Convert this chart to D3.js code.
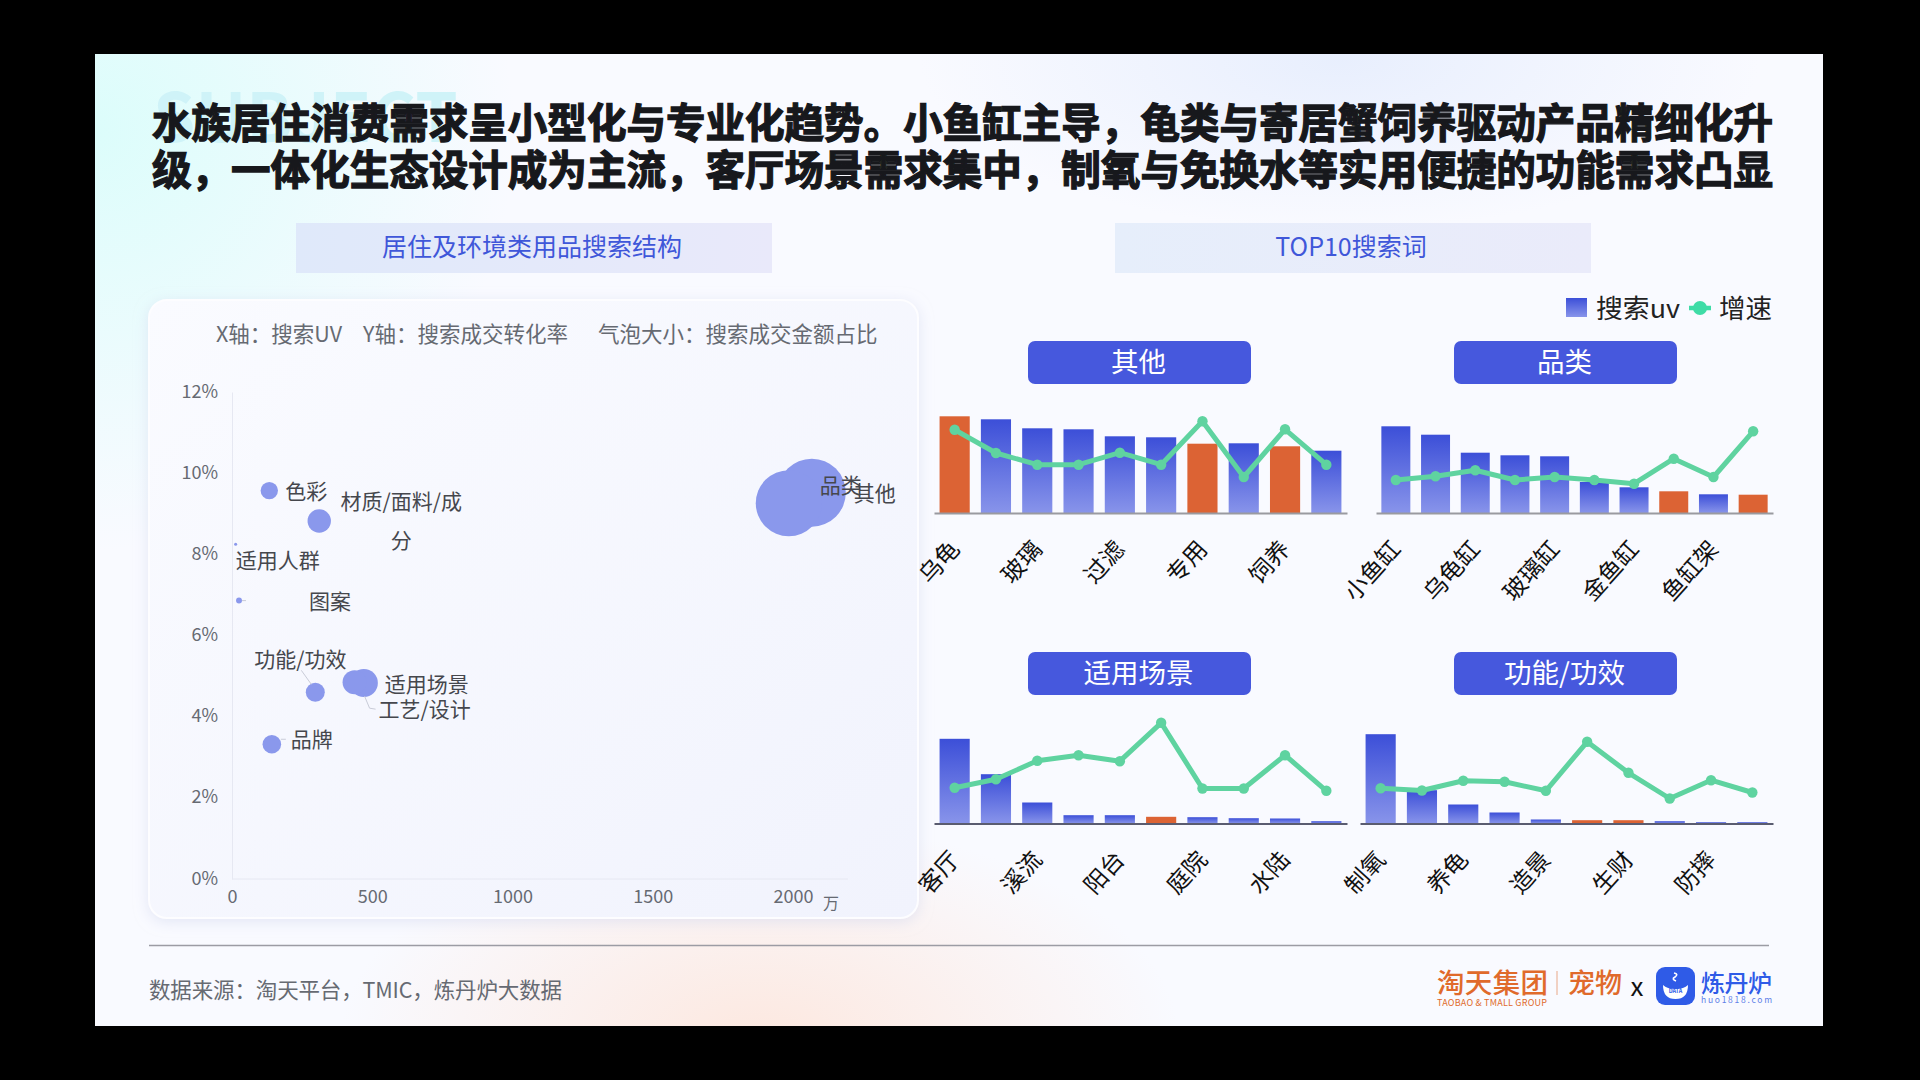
<!DOCTYPE html>
<html>
<head>
<meta charset="utf-8">
<script src="https://cdn.jsdelivr.net/npm/d3@7"></script>
<style>
html, body { margin: 0; padding: 0; background: #000; }
svg { display: block; }
text { font-family: "Noto Sans CJK SC", "Noto Sans", sans-serif; }
</style>
</head>
<body>
<script>
// 气泡图数据
var bubbleNames = ["其他", "品类", "色彩", "材质/面料/成分", "适用人群", "图案", "功能/功效", "适用场景", "工艺/设计", "品牌"];
var bubbleUv = [2067, 1985, 133, 311, 13, 25, 297, 470, 437, 142];
var bubbleRate = [9.52, 9.26, 9.57, 8.82, 8.25, 6.86, 4.6, 4.83, 4.85, 3.32];
var bubbleShare = [30, 28.3, 1.96, 3.55, 0.06, 0.23, 2.34, 5.1, 3.74, 2.24];
var xTicks = [0, 500, 1000, 1500, 2000];
var yTicks = [0, 2, 4, 6, 8, 10, 12];

// TOP10 数据, 没有坐标轴, 数值为相对读数
var otherLabels = ["乌龟", "玻璃", "过滤", "专用", "饲养"];
var otherUv = [96.7, 93.7, 84.7, 83.7, 76.7, 75.7, 69.3, 69.7, 66.7, 62.3];
var otherGrowth = [83.3, 60, 48.3, 48.3, 60.3, 48.3, 91.7, 36, 83.7, 48.3];
var otherHot = [0, 6, 8];

var categoryLabels = ["小鱼缸", "乌龟缸", "玻璃缸", "金鱼缸", "鱼缸架"];
var categoryUv = [86.7, 78.3, 60.3, 57.7, 56.7, 31, 25.7, 21.7, 18.7, 18.3];
var categoryGrowth = [33, 36.7, 42.7, 33, 36, 33, 29.3, 54.3, 36, 81.7];
var categoryHot = [7, 9];

var sceneLabels = ["客厅", "溪流", "阳台", "庭院", "水陆"];
var sceneUv = [84.7, 49.3, 21, 8.3, 8.3, 6.7, 6.3, 5.3, 5, 2.3];
var sceneGrowth = [35.7, 44.3, 62.7, 68.3, 62.3, 100.7, 35, 35, 68.3, 32.7];
var sceneHot = [5];

var funcLabels = ["制氧", "养龟", "造景", "生财", "防摔"];
var funcUv = [89.3, 33.3, 19, 11, 4, 3.3, 3.3, 2.3, 1.3, 1.3];
var funcGrowth = [35.3, 33, 42.7, 41.7, 32.7, 81.7, 50.7, 25, 43.3, 31];
var funcHot = [5, 6];

var titleLines = [
    "水族居住消费需求呈小型化与专业化趋势。小鱼缸主导，龟类与寄居蟹饲养驱动产品精细化升",
    "级，一体化生态设计成为主流，客厅场景需求集中，制氧与免换水等实用便捷的功能需求凸显"
];

// 气泡标签的偏移, 相对气泡圆心
var labelOffsets = {
    "其他": [63, -1], "品类": [52, -19], "色彩": [37, -1], "材质/面料/成分": [82, -21],
    "适用人群": [42, 15], "图案": [91, -1], "功能/功效": [-15, -34],
    "适用场景": [63, 0], "工艺/设计": [70, 26], "品牌": [40, -6]
};
var leaderLines = {
    "图案": [[3, 0], [7, 0]],
    "功能/功效": [[-14, -22], [-4, -8]],
    "工艺/设计": [[10, 14], [15, 26], [21, 27]],
    "品牌": [[9, -5], [14, -5]]
};

var svg = d3.select("body").append("svg").attr("width", 1920).attr("height", 1080);
var defs = svg.append("defs");

function radial(id, color, opacity) {
    var g = defs.append("radialGradient").attr("id", id);
    g.append("stop").attr("offset", "0%").attr("stop-color", color).attr("stop-opacity", opacity);
    g.append("stop").attr("offset", "100%").attr("stop-color", color).attr("stop-opacity", 0);
}
function linear(id, x2, y2, from, to) {
    var g = defs.append("linearGradient").attr("id", id)
        .attr("x1", 0).attr("y1", 0).attr("x2", x2).attr("y2", y2);
    g.append("stop").attr("offset", "0%").attr("stop-color", from);
    g.append("stop").attr("offset", "100%").attr("stop-color", to);
}
radial("glowCyan", "#dcfdfb", 1);
radial("glowPeach", "#fde6dc", 0.9);
radial("glowBlue", "#e4ecfd", 0.8);
linear("barBlue", 0, 1, "#3c4fd8", "#8894ea");
linear("cardFill", 1, 1, "#fafbff", "#f1f3fd");
linear("bannerLeft", 1, 0, "#dfe9fa", "#e9e9fa");
linear("bannerRight", 1, 0, "#e6eefb", "#eaebfa");

var shadow = defs.append("filter").attr("id", "cardShadow")
    .attr("x", "-5%").attr("y", "-5%").attr("width", "110%").attr("height", "110%");
shadow.append("feDropShadow").attr("dx", 0).attr("dy", 3).attr("stdDeviation", 7)
    .attr("flood-color", "#cdd3ec").attr("flood-opacity", 0.5);

defs.append("clipPath").attr("id", "slideClip").append("rect")
    .attr("x", 95).attr("y", 54).attr("width", 1728).attr("height", 972);

// 背景
var slide = svg.append("g").attr("clip-path", "url(#slideClip)");
slide.append("rect").attr("x", 95).attr("y", 54).attr("width", 1728).attr("height", 972).attr("fill", "#f9faff");
slide.append("ellipse").attr("cx", 95).attr("cy", 130).attr("rx", 420).attr("ry", 420).attr("fill", "url(#glowCyan)");
slide.append("ellipse").attr("cx", 760).attr("cy", 1040).attr("rx", 420).attr("ry", 220).attr("fill", "url(#glowPeach)");
slide.append("ellipse").attr("cx", 1340).attr("cy", 60).attr("rx", 420).attr("ry", 170).attr("fill", "url(#glowBlue)");

slide.append("text").attr("x", 153).attr("y", 142)
    .attr("font-size", 68).attr("font-weight", 700).attr("fill", "#cff3f8")
    .text("SUBJECT");

// 大标题
slide.selectAll("text.title").data(titleLines).join("text")
    .attr("class", "title")
    .attr("x", 152)
    .attr("y", function (d, i) { return 138 + i * 47; })
    .attr("textLength", 1621)
    .attr("lengthAdjust", "spacingAndGlyphs")
    .attr("font-size", 41)
    .attr("font-weight", 700)
    .attr("fill", "#17181c")
    .attr("stroke", "#17181c")
    .attr("stroke-width", 1.3)
    .text(function (d) { return d; });

// 小标题
function banner(x, w, fill, label) {
    slide.append("rect").attr("x", x).attr("y", 223).attr("width", w).attr("height", 50).attr("fill", fill);
    slide.append("text").attr("x", x + w / 2 - 2).attr("y", 245)
        .attr("text-anchor", "middle").attr("dominant-baseline", "central")
        .attr("font-size", 25).attr("fill", "#3f57d9").text(label);
}
banner(296, 476, "url(#bannerLeft)", "居住及环境类用品搜索结构");
banner(1115, 476, "url(#bannerRight)", "TOP10搜索词");

// 气泡图卡片
slide.append("rect").attr("x", 149).attr("y", 300).attr("width", 769).attr("height", 618).attr("rx", 18)
    .attr("fill", "url(#cardFill)").attr("stroke", "#fdfdff").attr("stroke-width", 2)
    .attr("filter", "url(#cardShadow)");

var infoTexts = [[216, "X轴：搜索UV"], [363, "Y轴：搜索成交转化率"], [598, "气泡大小：搜索成交金额占比"]];
slide.selectAll("text.info").data(infoTexts).join("text")
    .attr("class", "info")
    .attr("x", function (d) { return d[0]; })
    .attr("y", 332)
    .attr("dominant-baseline", "central")
    .attr("font-size", 21.5)
    .attr("fill", "#666a72")
    .text(function (d) { return d[1]; });

var xScale = d3.scaleLinear().domain([0, 2000]).range([232, 793]);
var yScale = d3.scaleLinear().domain([0, 12]).range([879, 392]);
var rScale = d3.scaleSqrt().domain([0, 30]).range([0, 34]);

var xAxis = d3.axisBottom(xScale).tickValues(xTicks).tickSize(0).tickPadding(11).tickFormat(d3.format("d"));
var yAxis = d3.axisLeft(yScale).tickValues(yTicks).tickSize(0).tickPadding(14)
    .tickFormat(function (d) { return d + "%"; });

var xAxisGroup = slide.append("g").attr("transform", "translate(0,879)").call(xAxis);
xAxisGroup.select(".domain").attr("d", "M232,0H848").attr("stroke", "#e6e8f2");
xAxisGroup.selectAll("text").attr("font-size", 18).attr("fill", "#666a72");
var yAxisGroup = slide.append("g").attr("transform", "translate(232,0)").call(yAxis);
yAxisGroup.select(".domain").attr("stroke", "#e6e8f2");
yAxisGroup.selectAll("text").attr("font-size", 18).attr("fill", "#666a72").attr("dy", "0.28em");

slide.append("text").attr("x", 831).attr("y", 902)
    .attr("text-anchor", "middle").attr("dominant-baseline", "central")
    .attr("font-size", 16).attr("fill", "#666a72").text("万");

bubbleNames.forEach(function (name, i) {
    var cx = xScale(bubbleUv[i]);
    var cy = yScale(bubbleRate[i]);
    slide.append("circle").attr("cx", cx).attr("cy", cy).attr("r", rScale(bubbleShare[i])).attr("fill", "#8a98ec");
});
var lineGen = d3.line();
bubbleNames.forEach(function (name, i) {
    var cx = xScale(bubbleUv[i]);
    var cy = yScale(bubbleRate[i]);
    var off = labelOffsets[name];
    if (leaderLines[name]) {
        slide.append("path")
            .attr("d", lineGen(leaderLines[name].map(function (p) { return [cx + p[0], cy + p[1]]; })))
            .attr("fill", "none").attr("stroke", "#c9ccd8").attr("stroke-width", 1);
    }
    // 材质这一条太长, 换行
    var parts = name.length > 7 ? [name.slice(0, 7), name.slice(7)] : [name];
    parts.forEach(function (part, k) {
        slide.append("text")
            .attr("x", cx + off[0]).attr("y", cy + off[1] + k * 39)
            .attr("text-anchor", "middle").attr("dominant-baseline", "central")
            .attr("font-size", 21).attr("fill", "#45474d").text(part);
    });
});

// 图例
slide.append("rect").attr("x", 1566).attr("y", 298).attr("width", 21).attr("height", 19).attr("fill", "url(#barBlue)");
slide.append("text").attr("x", 1596).attr("y", 306).attr("dominant-baseline", "central")
    .attr("font-size", 26).attr("textLength", 84).attr("lengthAdjust", "spacingAndGlyphs").attr("fill", "#222").text("搜索uv");
slide.append("line").attr("x1", 1689).attr("x2", 1711).attr("y1", 308).attr("y2", 308)
    .attr("stroke", "#3fdca6").attr("stroke-width", 4.5);
slide.append("circle").attr("cx", 1700).attr("cy", 308).attr("r", 7).attr("fill", "#3fdca6");
slide.append("text").attr("x", 1719).attr("y", 306).attr("dominant-baseline", "central")
    .attr("font-size", 26.5).attr("fill", "#222").text("增速");

// 四个小图
function drawPanel(p) {
    var g = slide.append("g");
    g.append("rect").attr("x", p.pillX).attr("y", p.pillY).attr("width", 223).attr("height", 43).attr("rx", 7).attr("fill", "#4658dd");
    g.append("text").attr("x", p.pillX + 110.5).attr("y", p.pillY + 19)
        .attr("text-anchor", "middle").attr("dominant-baseline", "central")
        .attr("font-size", 27.5).attr("fill", "#fff").text(p.title);

    var x = d3.scaleBand().domain(d3.range(p.uv.length)).range([p.x0, p.x1]).paddingInner(0.27).paddingOuter(0.135);
    var y = d3.scaleLinear().domain([0, 100]).range([p.base, p.base - 100]);

    g.selectAll("rect.bar").data(p.uv).join("rect")
        .attr("class", "bar")
        .attr("x", function (d, i) { return x(i); })
        .attr("y", function (d) { return y(d); })
        .attr("width", x.bandwidth())
        .attr("height", function (d) { return y(0) - y(d); })
        .attr("fill", function (d, i) { return p.hot.indexOf(i) >= 0 ? "#dc6334" : "url(#barBlue)"; });

    var axis = d3.axisBottom(x).tickValues([0, 2, 4, 6, 8]).tickSize(0)
        .tickFormat(function (d) { return p.labels[d / 2]; });
    var axisG = g.append("g").attr("transform", "translate(0," + p.base + ")").call(axis);
    axisG.select(".domain").attr("stroke", p.axisColor).attr("stroke-width", 2);
    axisG.selectAll("text")
        .attr("font-size", 23.5)
        .attr("fill", "#111")
        .attr("text-anchor", "end")
        .attr("dy", 0)
        .attr("transform", "translate(4,35) rotate(-48)");

    var line = d3.line()
        .x(function (d, i) { return x(i) + x.bandwidth() / 2; })
        .y(function (d) { return y(d); });
    g.append("path").attr("d", line(p.growth)).attr("fill", "none")
        .attr("stroke", "#5fd3a0").attr("stroke-width", 5).attr("stroke-linejoin", "round");
    g.selectAll("circle").data(p.growth).join("circle")
        .attr("cx", function (d, i) { return x(i) + x.bandwidth() / 2; })
        .attr("cy", function (d) { return y(d); })
        .attr("r", 5.2)
        .attr("fill", "#5fd3a0");
}
drawPanel({ title: "其他", pillX: 1028, pillY: 341, x0: 934, x1: 1347, base: 513, uv: otherUv, growth: otherGrowth, hot: otherHot, labels: otherLabels, axisColor: "#9a9aa0" });
drawPanel({ title: "品类", pillX: 1454, pillY: 341, x0: 1376, x1: 1773, base: 513, uv: categoryUv, growth: categoryGrowth, hot: categoryHot, labels: categoryLabels, axisColor: "#9a9aa0" });
drawPanel({ title: "适用场景", pillX: 1028, pillY: 652, x0: 934, x1: 1347, base: 823.5, uv: sceneUv, growth: sceneGrowth, hot: sceneHot, labels: sceneLabels, axisColor: "#5a5c70" });
drawPanel({ title: "功能/功效", pillX: 1454, pillY: 652, x0: 1360, x1: 1773, base: 823.5, uv: funcUv, growth: funcGrowth, hot: funcHot, labels: funcLabels, axisColor: "#5a5c70" });

// 页脚
slide.append("line").attr("x1", 149).attr("x2", 1769).attr("y1", 945.5).attr("y2", 945.5)
    .attr("stroke", "#9c9ca4").attr("stroke-width", 1.5);
slide.append("text").attr("x", 149).attr("y", 988).attr("dominant-baseline", "central")
    .attr("font-size", 21.5).attr("fill", "#666a72").attr("textLength", 413).text("数据来源：淘天平台，TMIC，炼丹炉大数据");

slide.append("text").attr("x", 1437).attr("y", 981).attr("dominant-baseline", "central")
    .attr("font-size", 27.5).attr("font-weight", 500).attr("fill", "#e06a2b").attr("textLength", 111).text("淘天集团");
slide.append("text").attr("x", 1437).attr("y", 1002).attr("dominant-baseline", "central")
    .attr("font-size", 9).attr("fill", "#e06a2b").attr("textLength", 110).text("TAOBAO & TMALL GROUP");
slide.append("line").attr("x1", 1557).attr("x2", 1557).attr("y1", 971).attr("y2", 995).attr("stroke", "#e9a888").attr("stroke-width", 1);
slide.append("text").attr("x", 1568).attr("y", 981).attr("dominant-baseline", "central")
    .attr("font-size", 27).attr("font-weight", 500).attr("fill", "#e06a2b").text("宠物");
slide.append("text").attr("x", 1637).attr("y", 984).attr("text-anchor", "middle").attr("dominant-baseline", "central")
    .attr("font-size", 26).attr("fill", "#111").text("x");
slide.append("rect").attr("x", 1656).attr("y", 967).attr("width", 39).attr("height", 38).attr("rx", 9).attr("fill", "#2f5be7");
slide.append("path").attr("d", "M1663,985 q0,14 12.5,14 q12.5,0 12.5,-14 q-4,4 -12.5,4 q-8.5,0 -12.5,-4 Z").attr("fill", "#fff");
slide.append("path").attr("d", "M1674,973 q5,1 1,4 q-4,2 1,4").attr("fill", "none").attr("stroke", "#fff").attr("stroke-width", 1.6);
slide.append("text").attr("x", 1675.5).attr("y", 991).attr("text-anchor", "middle").attr("dominant-baseline", "central")
    .attr("font-size", 5.5).attr("font-weight", 700).attr("fill", "#2f5be7").text("DATA");
slide.append("text").attr("x", 1701).attr("y", 981).attr("dominant-baseline", "central")
    .attr("font-size", 24).attr("font-weight", 500).attr("fill", "#2f5be7").attr("textLength", 71).text("炼丹炉");
slide.append("text").attr("x", 1701).attr("y", 999).attr("dominant-baseline", "central")
    .attr("font-size", 8.5).attr("fill", "#5f7fe8").attr("textLength", 71).text("huo1818.com");
</script>
</body>
</html>
